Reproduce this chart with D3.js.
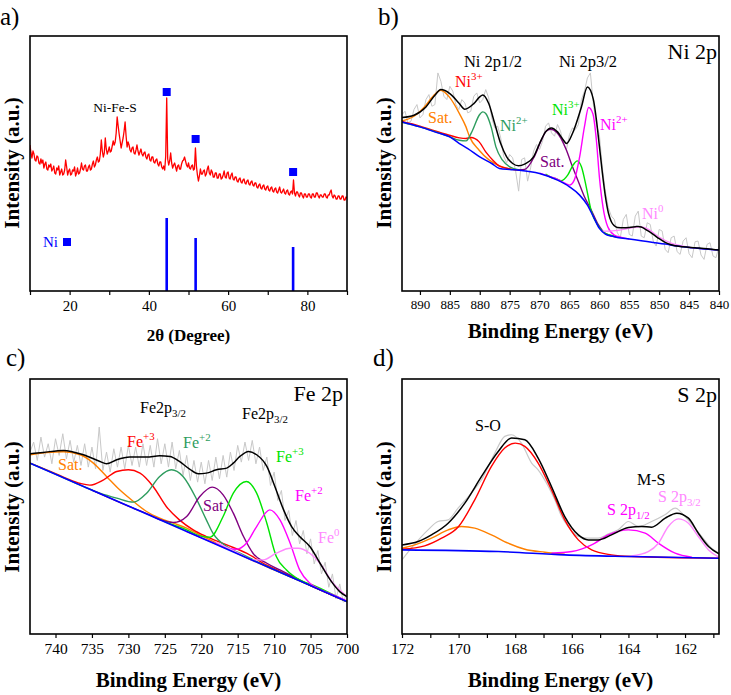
<!DOCTYPE html>
<html><head><meta charset="utf-8">
<script src="https://cdn.jsdelivr.net/npm/d3@7"></script>
<style>
body{margin:0;background:#fff}
svg text{font-family:"Liberation Serif","Tinos","Times New Roman","DejaVu Serif",serif !important;}
</style>
</head><body>
<svg id="chart" width="731" height="695"></svg>
<script>
// ---------------- DATA ----------------
// (a) XRD pattern, sampled every 0.25 deg from 10 to 90 deg
const xrdStart = 10, xrdStep = 0.25;
const xrdIntensity = [
146,138,133,140, 137,131,130,135, 134,128,127,132, 128,131,123,127, 129,122,121,126,
124,127,120,122, 125,118,117,123, 121,125,116,119, 122,116,117,121, 131,124,116,120,
122,116,117,121, 120,124,115,118, 123,117,118,122, 128,122,121,125, 126,120,120,124,
126,121,122,127, 130,124,126,131, 134,129,130,137, 151,140,134,138, 153,142,137,140,
144,139,140,145, 150,146,149,158, 174,165,157,150, 143,148,153,160, 169,155,144,149,
146,141,139,143, 144,138,137,141, 146,140,136,139, 142,137,135,138, 139,134,132,136,
137,131,130,134, 134,129,128,131, 132,127,125,129, 129,124,122,125, 121,135,193,132,
126,130,138,128, 123,126,128,124, 120,125,126,122, 122,127,130,131, 134,130,126,124,
128,123,122,125, 126,121,122,143, 125,116,110,115, 122,117,117,120, 121,115,117,122,
125,118,116,121, 119,114,114,118, 118,113,113,117, 117,112,113,116, 120,114,113,118,
119,113,112,116, 118,112,111,114, 114,110,109,112, 113,109,108,111, 112,108,107,110,
111,107,106,109, 110,106,105,108, 108,104,103,106, 107,103,102,105, 106,102,101,104,
105,101,100,103, 104,100,99,102, 103,99,98,101, 104,99,98,100, 102,98,97,100,
101,97,96,99, 100,97,111,98, 95,99,99,96, 94,98,98,95, 93,97,97,94,
94,97,97,94, 93,97,97,94, 94,98,98,95, 93,96,96,94, 94,97,97,94,
93,96,96,99, 101,95,93,96, 95,92,92,95, 95,92,92,95, 95,91,91,94, 93];
const niRef2theta = [44.5, 51.8, 76.4];
const niRefIntensity = [73, 53, 44];
const niMarkerIntensity = [199, 152, 119];
const xrdTicks = [10,20,30,40,50,60,70,80,90];

// (b) Ni 2p: [binding energy, intensity]
const niRaw = [[893,530],[892.5,540],[892,505],[891.5,510],[891,545],[890.5,560],[890,520],[889.5,530],[889,575],[888.5,590],[888,555],[887.5,560],[887,655],[886.5,630],[886,585],[885.5,575],[885,615],[884.5,600],[884,560],[883.5,545],[883,575],[882.5,565],[882,535],[881.5,540],[881,585],[880.5,595],[880,565],[879.5,575],[879,605],[878.5,580],[878,520],[877.5,490],[877,495],[876.5,460],[876,405],[875.5,385],[875,410],[874.5,400],[874,360],[873.5,300],[873,395],[872.5,400],[872,330],[871.5,370],[871,420],[870.5,440],[870,425],[869.5,450],[869,495],[868.5,505],[868,475],[867.5,465],[867,500],[866.5,480],[866,440],[865.5,425],[865,470],[864.5,490],[864,485],[863.5,500],[863,575],[862.5,600],[862,640],[861.5,655],[861,560],[860.5,500],[860,470],[859.5,370],[859,300],[858.5,250],[858,225],[857.5,215],[857,175],[856.5,160],[856,215],[855.5,230],[855,170],[854.5,165],[854,225],[853.5,240],[853,165],[852.5,160],[852,205],[851.5,200],[851,150],[850.5,135],[850,185],[849.5,180],[849,125],[848.5,115],[848,160],[847.5,165],[847,118],[846.5,110],[846,150],[845.5,160],[845,112],[844.5,100],[844,148],[843.5,150],[843,108],[842.5,95],[842,140],[841.5,145],[841,105],[840.5,100],[840,135]];
const niBackground = [[893,508],[890,493],[887,475],[885,463],[883.4,443],[882,428],[880,403],[878,383],[876.7,368],[875,365],[873.4,363],[870,353],[867,333],[865,313],[863.3,288],[862,258],[861,223],[860,188],[859,171],[858,165],[857,161],[855,156],[853,151],[851,146],[849,141],[847,135],[845,131],[843,127],[840,123]];
const niSatHigh = [[893,511],[891,525],[889,558],[888,581],[887,599],[886.5,603],[885.1,583],[883.4,533],[882.3,493],[881.7,463],[880.1,423],[878.4,393],[876.7,376],[875,367],[873.4,363]];
const ni3p12 = [[893,509],[890,495],[887.9,483],[885.1,468],[883.4,460],[882.3,458],[881.5,461],[880.1,448],[879,418],[877.8,393],[876.7,375],[875,367],[873.4,363]];
const ni2p12 = [[893,507],[890,493],[887,476],[885,463],[883.4,453],[882.3,451],[881.2,483],[880.1,528],[879.5,538],[879,533],[878.1,493],[877.3,433],[876.2,393],[875,373],[873.4,364]];
const niSatLow = [[873.5,364],[872.5,365],[870.9,403],[869.7,453],[868.9,480],[868.2,486],[867.2,478],[866.4,458],[865.5,423],[864.7,383],[863.6,333],[862.5,283],[861.4,245],[860.2,200],[859.1,174],[858,166],[857,161]];
const ni3p32 = [[869,351],[868,341],[867.2,337],[866.4,331],[865.3,348],[864.4,378],[863.7,391],[863,373],[862.2,313],[861.4,243],[860.2,196],[859.1,174],[858,167],[857,162]];
const ni2p32 = [[870,354],[868,342],[867,335],[865.8,324],[865,318],[864.2,333],[863.3,403],[862.5,493],[861.8,551],[861.1,533],[860.5,453],[860,343],[859.4,253],[858.6,193],[857.5,168],[856.3,161],[855,156]];
const ni0 = [[859.5,180],[858.5,180],[857,182],[855.5,187],[854.6,190],[853.2,193],[851.8,185],[850.1,163],[847.9,143],[845.6,133],[843.4,128],[840,123]];
const niEnvelope = [[893,521],[891,528],[889,553],[887.5,588],[886.5,605],[885,593],[883.5,565],[882.5,546],[881,563],[880,583],[879.5,589],[878.5,563],[877.5,503],[876.5,443],[875.5,403],[874.5,383],[873.5,376],[872.5,381],[871,403],[870,443],[869,478],[868,490],[867,478],[866,453],[865.5,443],[864.5,473],[863,553],[862,613],[861,575],[860.5,515],[860,435],[859.5,355],[859,285],[858.5,235],[858,208],[857.5,196],[857,191],[856,190],[855,191],[854,193],[853.5,194],[853,192],[852,182],[851,170],[850,157],[849,146],[848,139],[846,133],[844,130],[842,127],[840,123]];
const niTicks = [890,885,880,875,870,865,860,855,850,845,840];

// (c) Fe 2p
const feRaw = [[743.5,545],[743,575],[742.5,520],[742,590],[741.5,530],[741,570],[740.5,510],[740,585],[739.5,535],[739,600],[738.5,525],[738,580],[737.5,515],[737,565],[736.5,505],[736,570],[735.5,500],[735,560],[734.5,495],[734,620],[733.5,490],[733,545],[732.5,485],[732,555],[731.5,500],[731,560],[730.5,495],[730,565],[729.5,505],[729,560],[728.5,500],[728,570],[727.5,505],[727,565],[726.5,500],[726,585],[725.5,510],[725,570],[724.5,500],[724,575],[723.5,495],[723,550],[722.5,475],[722,535],[721.5,460],[721,520],[720.5,455],[720,515],[719.5,450],[719,520],[718.5,460],[718,530],[717.5,465],[717,535],[716.5,470],[716,545],[715.5,490],[715,565],[714.5,515],[714,575],[713.5,520],[713,580],[712.5,510],[712,560],[711.5,490],[711,530],[710.5,445],[710,485],[709.5,400],[709,430],[708.5,340],[708,370],[707.5,295],[707,340],[706.5,270],[706,310],[705.5,240],[705,285],[704.5,210],[704,250],[703.5,180],[703,215],[702.5,140],[702,180],[701.5,105],[701,150],[700.5,95],[700,125]];
const feBackground = [[743.5,512],[721.75,305],[700,97]];
const feSatHigh = [[743.5,537],[741.2,544],[738.9,546],[736.6,537],[734.8,512],[733,472],[731.2,432],[729.3,397],[727.5,367],[725.7,347],[723.8,332],[722,317],[720.2,297],[717.9,272],[715,241],[710,192],[705,145],[700,97]];
const fe3a = [[743.5,512],[740.8,488],[738.5,466],[736.6,451],[735.3,446],[733.4,462],[731.6,487],[730,492],[728.4,482],[726.6,442],[724.8,382],[723,342],[721.1,312],[719.3,292],[716.5,267],[713.8,242],[711,206],[708,176],[704,135],[700,97]];
const fe2a = [[743.5,512],[740,479],[736.2,442],[733.9,422],[731.6,407],[729.3,395],[727.5,422],[725.7,472],[724.1,492],[722.5,472],[720.6,402],[719.3,342],[718.4,302],[716.5,262],[714.7,242],[711,203],[705,145],[700,97]];
const feSatLow = [[735,431],[730,383],[727,356],[725.7,343],[723.8,334],[722,352],[720.2,412],[718.5,440],[717,417],[715.6,362],[714.2,292],[712.9,242],[711,212],[709.2,192],[707.4,172],[705,146],[700,97]];
const fe3b = [[725,336],[722,312],[720.2,294],[718.8,290],[717,352],[715.6,422],[713.8,457],[712.4,422],[711,332],[709.7,232],[708.3,192],[706.5,162],[704.2,142],[701,108],[700,97]];
const fe2b = [[722,307],[718.4,274],[716.5,257],[715.2,254],[713.8,272],[712.4,322],[710.6,372],[709.2,342],[707.8,272],[706.5,192],[705.1,152],[703.7,134],[701.9,117],[700,99]];
const fe0 = [[718,275],[714.7,240],[712.9,222],[711.5,222],[709.7,242],[707.8,257],[706.7,257],[705.1,242],[703.7,212],[701.9,152],[700.5,122],[700,112]];
const feEnvelope = [[743.5,540],[741.7,544],[738.9,550],[736.2,537],[733.9,517],[733,510],[731.6,522],[729.8,530],[727.5,530],[725.7,534],[724.3,532],[723,517],[721.6,494],[720.4,480],[719.3,482],[717.9,492],[716.5,497],[715.6,512],[714.7,532],[713.5,547],[712.4,537],[711,502],[709.9,442],[708.7,372],[707.6,322],[706.5,292],[705.1,262],[703.7,212],[702.3,162],[701,127],[700,112]];
const feTicks = [740,735,730,725,720,715,710,705,700];

// (d) S 2p
const sRaw = [[172,222],[171.67,257],[171.08,312],[170.73,337],[170.37,342],[170.02,377],[169.55,422],[169.19,462],[168.72,542],[168.37,592],[168.13,597],[167.78,572],[167.42,512],[167.19,492],[166.83,442],[166.6,402],[166.36,352],[166.13,322],[165.77,292],[165.42,287],[165.07,287],[164.71,300],[164.36,312],[164,337],[163.65,322],[163.18,337],[162.71,357],[162.35,377],[162,352],[161.65,317],[161.41,292],[161.06,257],[160.8,242]];
const sBackground = [[172,252],[168.6,247],[166.25,237],[163.9,232],[160.8,227]];
const sOxideLow = [[172,257],[171.55,267],[170.96,287],[170.37,312],[169.9,322],[169.43,317],[168.84,297],[168.25,272],[167.66,254],[166.95,245],[166.25,239]];
const sOxide = [[172,254],[171.2,264],[170.6,287],[170,322],[169.43,402],[168.84,502],[168.37,557],[168,572],[167.66,562],[167.19,512],[166.72,432],[166.25,342],[165.77,282],[165.3,252],[164.6,237],[163.9,232],[160.8,227]];
const s2p12 = [[166.72,242],[166,247],[165.3,267],[164.71,297],[164,312],[163.41,302],[162.94,272],[162.35,242],[161.76,230]];
const s2p32 = [[163.9,234],[163.3,247],[162.94,272],[162.59,322],[162.24,345],[161.88,332],[161.53,292],[161.17,252],[160.8,230]];
const sEnvelope = [[172,267],[171.43,277],[170.96,297],[170.37,332],[169.78,392],[169.19,472],[168.6,547],[168.13,587],[167.66,582],[167.19,527],[166.72,442],[166.25,352],[165.77,297],[165.42,282],[165.07,282],[164.6,297],[164,319],[163.53,322],[163.18,320],[162.7,347],[162.29,362],[161.88,347],[161.53,302],[161.17,262],[160.8,240]];
const sTicks = [172,171,170,169,168,167,166,165,164,163,162,161];

// ---------------- DRAW ----------------
const FONT = '"Liberation Serif","Tinos","Times New Roman","DejaVu Serif",serif';
const COL = {env:"#000000", bg:"#0000ff", orange:"#ff8000", red:"#ff0000", teal:"#2e9c5e",
  lime:"#00e400", purple:"#800080", magenta:"#ff00ff", pink:"#ff88ff", raw:"#c8c8c8"};
const svg = d3.select("#chart");
svg.append("rect").attr("width",731).attr("height",695).attr("fill","#fff");

function makePanel(id, box, xDom, yDom){
  const x = d3.scaleLinear().domain(xDom).range([box.l, box.r]);
  const y = d3.scaleLinear().domain(yDom).range([box.b, box.t]);
  const g = svg.append("g");
  svg.append("clipPath").attr("id","clip"+id).append("rect")
    .attr("x",box.l).attr("y",box.t).attr("width",box.r-box.l).attr("height",box.b-box.t);
  const inner = g.append("g").attr("clip-path",`url(#clip${id})`);
  return {x,y,g,inner,box};
}
function line(p, data, color, w, curve){
  p.inner.append("path").datum(data)
    .attr("d", d3.line().x(d=>p.x(d[0])).y(d=>p.y(d[1])).curve(curve||d3.curveMonotoneX))
    .attr("fill","none").attr("stroke",color).attr("stroke-width",w).attr("stroke-linejoin","round");
}
function frame(p, ticks, fmt, fs, pad){
  const ax = p.g.append("g").attr("transform",`translate(0,${p.box.b})`)
    .call(d3.axisBottom(p.x).tickValues(ticks).tickFormat(fmt).tickSize(4).tickPadding(pad));
  ax.attr("font-family",null);
  ax.select(".domain").remove();
  ax.selectAll(".tick line").attr("stroke","#000").attr("stroke-width",1.2);
  ax.selectAll(".tick text").style("font-family",FONT).attr("font-size",fs).attr("fill","#000");
  p.g.append("rect").attr("x",p.box.l).attr("y",p.box.t)
    .attr("width",p.box.r-p.box.l).attr("height",p.box.b-p.box.t)
    .attr("fill","none").attr("stroke","#000").attr("stroke-width",1.6);
}
function label(g, x, y, parts, color, size, anchor, weight){
  const t = g.append("text").attr("x",x).attr("y",y).attr("fill",color)
    .style("font-family",FONT).attr("font-size",size).attr("text-anchor",anchor||"start")
    .attr("font-weight",weight||"normal");
  let shift = 0;
  parts.forEach(([s,type])=>{
    const target = type==="sup" ? -0.42*size : type==="sub" ? 0.28*size : 0;
    t.append("tspan").attr("dy", target-shift).attr("font-size", type ? size*0.68 : size).text(s);
    shift = target;
  });
  return t;
}
function yTitle(cx, cy){
  svg.append("text").attr("transform",`translate(${cx},${cy}) rotate(-90)`)
    .attr("text-anchor","middle").attr("dominant-baseline","central")
    .style("font-family",FONT).attr("font-weight","bold").attr("font-size",21).text("Intensity (a.u.)");
}
function xTitle(cx, cy, txt, fs){
  svg.append("text").attr("x",cx).attr("y",cy).attr("text-anchor","middle")
    .style("font-family",FONT).attr("font-weight","bold").attr("font-size",fs).text(txt);
}

// ---- Panel a ----
const xrdPattern = xrdIntensity.map((v,i)=>[xrdStart + i*xrdStep, v]);
const pa = makePanel("a", {l:30,r:347,t:36,b:291}, [10,90], [0,255]);
line(pa, xrdPattern, "#ff0000", 1.3, d3.curveLinear);
pa.inner.selectAll("rect.ref").data(niRef2theta).join("rect").attr("class","ref")
  .attr("x",(d)=>pa.x(d)-1.3).attr("width",2.6)
  .attr("y",(d,i)=>pa.y(niRefIntensity[i])).attr("height",(d,i)=>pa.y(0)-pa.y(niRefIntensity[i]))
  .attr("fill","#0000ff");
pa.g.selectAll("rect.mk").data(niRef2theta).join("rect").attr("class","mk")
  .attr("x",d=>pa.x(d)-4).attr("y",(d,i)=>pa.y(niMarkerIntensity[i])-4)
  .attr("width",8).attr("height",8).attr("fill","#0000ff");
frame(pa, xrdTicks, d=>(d%20===0 && d>10 && d<90)?d:"", 15, 5);
label(pa.g, 115, 112, [["Ni-Fe-S"]], "#000", 13.5, "middle");
label(pa.g, 43, 247, [["Ni"]], "#0000ff", 15, "start");
pa.g.append("rect").attr("x",63).attr("y",238).attr("width",8).attr("height",8).attr("fill","#0000ff");
xTitle(188.5, 341, "2\u03b8 (Degree)", 17);
yTitle(12, 163);
label(svg, 0, 25, [["a)"]], "#000", 25, "start");

// ---- Panel b ----
const pb = makePanel("b", {l:402,r:719,t:36,b:291}, [893,840], [0,766]);
line(pb, niRaw, COL.raw, 1, d3.curveLinear);
line(pb, niSatHigh, COL.orange, 1.4);
line(pb, ni3p12, COL.red, 1.4);
line(pb, ni2p12, COL.teal, 1.4);
line(pb, niSatLow, COL.purple, 1.4);
line(pb, ni3p32, COL.lime, 1.4);
line(pb, ni2p32, COL.magenta, 1.4);
line(pb, ni0, COL.pink, 1.4);
line(pb, niBackground, COL.bg, 1.5);
line(pb, niEnvelope, COL.env, 1.5);
frame(pb, niTicks, d=>d, 13, 5);
label(pb.g, 493, 67, [["Ni 2p1/2"]], "#000", 16.5, "middle");
label(pb.g, 588, 67, [["Ni 2p3/2"]], "#000", 16.5, "middle");
label(pb.g, 717, 59, [["Ni 2p"]], "#000", 22, "end");
label(pb.g, 455, 87, [["Ni"],["3+","sup"]], COL.red, 16);
label(pb.g, 428, 123, [["Sat."]], COL.orange, 16);
label(pb.g, 500, 131, [["Ni"],["2+","sup"]], COL.teal, 16);
label(pb.g, 552, 115, [["Ni"],["3+","sup"]], COL.lime, 16);
label(pb.g, 600, 130, [["Ni"],["2+","sup"]], COL.magenta, 16);
label(pb.g, 540, 167, [["Sat."]], COL.purple, 16);
label(pb.g, 642, 219, [["Ni"],["0","sup"]], COL.pink, 16);
xTitle(560.5, 338, "Binding Energy (eV)", 21);
yTitle(384, 163);
label(svg, 378, 25, [["b)"]], "#000", 25, "start");

// ---- Panel c ----
const pc = makePanel("c", {l:30,r:347,t:379,b:634}, [743.5,700], [0,764]);
line(pc, feRaw, COL.raw, 1, d3.curveLinear);
line(pc, feSatHigh, COL.orange, 1.4);
line(pc, fe3a, COL.red, 1.4);
line(pc, fe2a, COL.teal, 1.4);
line(pc, feSatLow, COL.purple, 1.4);
line(pc, fe3b, COL.lime, 1.4);
line(pc, fe2b, COL.magenta, 1.4);
line(pc, fe0, COL.pink, 1.4);
line(pc, feBackground, COL.bg, 1.6, d3.curveLinear);
line(pc, feEnvelope, COL.env, 1.5);
frame(pc, feTicks, d=>d, 15.5, 5);
label(pc.g, 140, 413, [["Fe2p"],["3/2","sub"]], "#000", 16);
label(pc.g, 242, 419, [["Fe2p"],["3/2","sub"]], "#000", 16);
label(pc.g, 343, 401, [["Fe 2p"]], "#000", 22, "end");
label(pc.g, 127, 447, [["Fe"],["+3","sup"]], COL.red, 16);
label(pc.g, 183, 448, [["Fe"],["+2","sup"]], COL.teal, 16);
label(pc.g, 276, 462, [["Fe"],["+3","sup"]], COL.lime, 16);
label(pc.g, 295, 501, [["Fe"],["+2","sup"]], COL.magenta, 16);
label(pc.g, 318, 543, [["Fe"],["0","sup"]], COL.pink, 16);
label(pc.g, 58, 470, [["Sat."]], COL.orange, 16);
label(pc.g, 203, 511, [["Sat."]], COL.purple, 16);
xTitle(188.5, 687, "Binding Energy (eV)", 21);
yTitle(12, 507);
label(svg, 6, 366, [["c)"]], "#000", 25, "start");

// ---- Panel d ----
const pd = makePanel("d", {l:402,r:719,t:379,b:634}, [172,160.8], [0,764]);
line(pd, sRaw, COL.raw, 1.2);
line(pd, sOxideLow, COL.orange, 1.4);
line(pd, sOxide, COL.red, 1.4);
line(pd, s2p12, COL.magenta, 1.4);
line(pd, s2p32, COL.pink, 1.4);
line(pd, sBackground, COL.bg, 1.6);
line(pd, sEnvelope, COL.env, 1.5);
frame(pd, sTicks, d=>d%2===0?d:"", 15.5, 5);
label(pd.g, 475, 431, [["S-O"]], "#000", 16);
label(pd.g, 637, 485, [["M-S"]], "#000", 16);
label(pd.g, 607, 515, [["S 2p"],["1/2","sub"]], COL.magenta, 16);
label(pd.g, 658, 502, [["S 2p"],["3/2","sub"]], COL.pink, 16);
label(pd.g, 717, 402, [["S 2p"]], "#000", 22, "end");
xTitle(560.5, 687, "Binding Energy (eV)", 21);
yTitle(384, 507);
label(svg, 373, 366, [["d)"]], "#000", 25, "start");
</script>
</body></html>
